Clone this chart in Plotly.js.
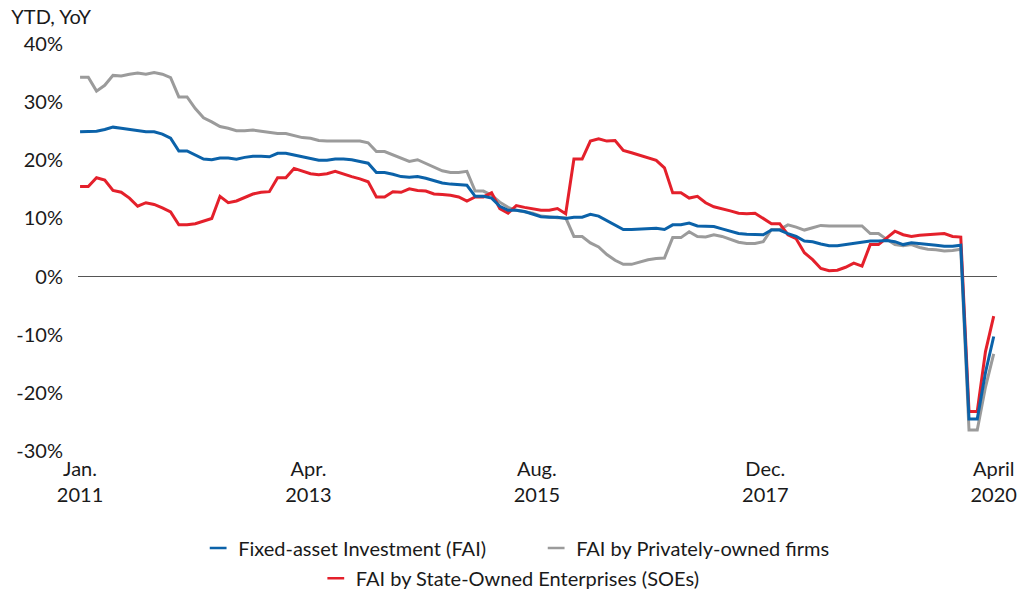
<!DOCTYPE html>
<html>
<head>
<meta charset="utf-8">
<script src="https://cdn.plot.ly/plotly-3.0.1.min.js"></script>
<style>html,body{margin:0;padding:0;background:#fff;}#chart{width:1032px;height:593px;}</style>
</head>
<body>
<div id="chart"></div>
<script>
// Monthly YTD YoY growth, Jan 2011 .. Apr 2020 (Jan repeats the Jan-Feb figure)
const startYear = 2011;
const tickLabels = ['Jan.<br>2011', 'Apr.<br>2013', 'Aug.<br>2015', 'Dec.<br>2017', 'April<br>2020'];
const yTickValues = [-30, -20, -10, 0, 10, 20, 30, 40];
const seriesNames = ['Fixed-asset Investment (FAI)', 'FAI by Privately-owned firms', 'FAI by State-Owned Enterprises (SOEs)'];

const fai = [
  24.9, 24.9, 25.0, 25.3, 25.7, 25.5, 25.3, 25.0, 24.9, 24.9, 24.5, 23.8,
  21.6, 21.6, 20.9, 20.2, 20.1, 20.4, 20.4, 20.2, 20.5, 20.7, 20.7, 20.6,
  21.2, 21.2, 20.9, 20.6, 20.4, 20.0, 20.0, 20.2, 20.2, 20.1, 19.8, 19.5,
  17.9, 17.9, 17.6, 17.2, 17.1, 17.2, 16.9, 16.5, 16.1, 15.9, 15.8, 15.7,
  13.8, 13.8, 13.5, 12.1, 11.4, 11.4, 11.2, 10.8, 10.3, 10.2, 10.2, 10.0,
  10.2, 10.2, 10.7, 10.4, 9.6, 8.9, 8.1, 8.1, 8.2, 8.3, 8.3, 8.1,
  8.9, 8.9, 9.2, 8.7, 8.6, 8.6, 8.2, 7.8, 7.4, 7.3, 7.2, 7.2,
  8.0, 8.0, 7.4, 6.9, 6.1, 6.0, 5.6, 5.3, 5.3, 5.5, 5.8, 5.9,
  6.1, 6.1, 6.2, 6.0, 5.5, 5.8, 5.7, 5.5, 5.4, 5.2, 5.2, 5.4,
  -24.5, -24.5, -16.5, -10.3
];
const privateFai = [
  34.3, 34.3, 31.9, 32.9, 34.6, 34.5, 34.8, 35.0, 34.8, 35.1, 34.8, 34.2,
  30.9, 30.9, 28.9, 27.3, 26.6, 25.8, 25.5, 25.1, 25.1, 25.2, 25.0, 24.8,
  24.6, 24.6, 24.2, 23.9, 23.8, 23.4, 23.3, 23.3, 23.3, 23.4, 23.3, 23.0,
  21.5, 21.5, 20.9, 20.3, 19.8, 20.1, 19.5, 18.9, 18.2, 17.9, 17.9, 18.1,
  14.7, 14.7, 14.0, 12.8, 11.9, 11.4, 11.2, 10.9, 10.4, 10.2, 10.1, 10.1,
  6.9, 6.9, 5.8, 5.1, 3.8, 2.8, 2.1, 2.1, 2.5, 2.9, 3.1, 3.2,
  6.7, 6.7, 7.7, 6.9, 6.8, 7.2, 6.9, 6.4, 5.9, 5.7, 5.7, 6.0,
  8.1, 8.1, 8.9, 8.5, 8.0, 8.4, 8.8, 8.7, 8.7, 8.8, 8.7, 8.7,
  7.4, 7.4, 6.4, 5.5, 5.3, 5.5, 5.0, 4.7, 4.6, 4.4, 4.5, 4.7,
  -26.4, -26.4, -19.0, -13.3
];
const soeFai = [
  15.5, 15.5, 17.0, 16.6, 14.8, 14.5, 13.5, 12.1, 12.7, 12.4, 11.8, 11.1,
  8.9, 8.9, 9.1, 9.5, 10.0, 13.8, 12.7, 13.0, 13.6, 14.2, 14.5, 14.6,
  17.0, 17.0, 18.6, 18.1, 17.7, 17.5, 17.7, 18.1, 17.6, 17.2, 16.8, 16.3,
  13.7, 13.7, 14.6, 14.5, 15.1, 14.8, 14.7, 14.2, 14.1, 14.0, 13.7, 13.0,
  13.7, 13.7, 14.4, 11.7, 10.9, 12.2, 11.9, 11.7, 11.4, 11.4, 11.7, 10.8,
  20.2, 20.2, 23.3, 23.7, 23.3, 23.4, 21.7, 21.3, 20.9, 20.4, 20.0, 18.7,
  14.4, 14.4, 13.5, 13.8, 12.7, 12.0, 11.7, 11.3, 10.9, 10.8, 10.9, 10.0,
  9.1, 9.1, 7.2, 6.5, 4.1, 2.9, 1.4, 1.0, 1.1, 1.6, 2.3, 1.8,
  5.5, 5.5, 6.6, 7.8, 7.2, 6.9, 7.1, 7.2, 7.3, 7.4, 6.9, 6.8,
  -23.2, -23.2, -12.9, -6.8
];

const n = fai.length;
const months = [];
for (let i = 0; i < n; i++) {
  const y = startYear + Math.floor(i / 12), m = (i % 12) + 1;
  months.push(y + '-' + String(m).padStart(2, '0'));
}
const idx = months.map((_, i) => i);
const last = n - 1;
const tickvals = tickLabels.map((_, i) => last * i / (tickLabels.length - 1));

const FONT = 'Lato, Open Sans, sans-serif';
const TXT = '#1a1a1a';
const colors = {blue: '#0b62a9', gray: '#9b9b9b', red: '#e4202b'};

function lineTrace(y, name, color) {
  return {x: idx, y: y, customdata: months, name: name, type: 'scatter', mode: 'lines',
          line: {color: color, width: 3}, showlegend: false};
}
function legendTrace(name, color, legend, rank) {
  return {x: [null], y: [null], name: name, type: 'scatter', mode: 'markers', legend: legend, legendrank: rank,
          marker: {symbol: 'line-ew', size: 12, color: color, line: {color: color, width: 2.5}}};
}

const traces = [
  lineTrace(privateFai, seriesNames[1], colors.gray),
  lineTrace(soeFai, seriesNames[2], colors.red),
  lineTrace(fai, seriesNames[0], colors.blue),
  legendTrace(seriesNames[0], colors.blue, 'legend', 1),
  legendTrace(seriesNames[1], colors.gray, 'legend', 2),
  legendTrace(seriesNames[2], colors.red, 'legend2', 3)
];

const layout = {
  width: 1032, height: 593,
  margin: {l: 78, r: 35, t: 44, b: 142},
  paper_bgcolor: '#fff', plot_bgcolor: '#fff',
  font: {family: FONT, size: 20, color: TXT},
  title: {text: 'YTD, YoY', x: 0.011, xanchor: 'left', xref: 'container', y: 0.971, yanchor: 'middle', yref: 'container',
          font: {family: FONT, size: 20, color: TXT}},
  showlegend: true,
  xaxis: {range: [-0.25, last + 0.4], tickmode: 'array', tickvals: tickvals, ticktext: tickLabels,
          showgrid: false, zeroline: false, showline: false, ticks: '', ticklabelstandoff: 4,
          tickfont: {family: FONT, size: 20, color: TXT}},
  yaxis: {range: [-30, 40], tickmode: 'array', tickvals: yTickValues, ticktext: yTickValues.map(v => v + '%'),
          showgrid: false, zeroline: true, zerolinecolor: '#555', zerolinewidth: 1.5, showline: false, ticks: '',
          ticklabelstandoff: 14, tickfont: {family: FONT, size: 20, color: TXT}},
  legend: {orientation: 'h', xref: 'container', yref: 'container', x: 0.192, xanchor: 'left', y: 0.076, yanchor: 'middle',
           entrywidth: 293, entrywidthmode: 'pixels',
           font: {family: FONT, size: 20, color: TXT}, bgcolor: 'rgba(0,0,0,0)', traceorder: 'normal'},
  legend2: {orientation: 'h', xref: 'container', yref: 'container', x: 0.306, xanchor: 'left', y: 0.025, yanchor: 'middle',
           font: {family: FONT, size: 20, color: TXT}, bgcolor: 'rgba(0,0,0,0)'}
};

Plotly.newPlot('chart', traces, layout, {displayModeBar: false, staticPlot: true});
</script>
</body>
</html>
